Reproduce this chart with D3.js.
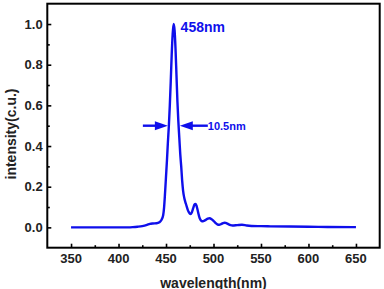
<!DOCTYPE html>
<html><head><meta charset="utf-8">
<script src="https://cdn.jsdelivr.net/npm/d3@7"></script>
<style>
html,body{margin:0;padding:0;background:#fff;}
svg{display:block;font-family:"Liberation Sans",Arial,sans-serif;}
</style></head>
<body><svg id="c" width="384" height="289"></svg>
<script>
const wavelength = [350,360,380,400,410,415,420,425,430,433,436,440,443,445,447,448,449,450,451,452,453,454,455,456,457,458,459,460,461,462,463,464,465,466,467,468,469,470,471,472,473,474,475,476,477,478,479,480,481,482,483,484,485,486,487,488,489,490,492,494,496,498,500,502,504,506,508,510,512,514,516,518,520,525,530,535,540,550,560,580,600,620,650];
const intensity = [0,0,0,0,0,0.001,0.003,0.006,0.012,0.017,0.019,0.02,0.025,0.035,0.06,0.1,0.17,0.25,0.33,0.42,0.5,0.6,0.72,0.85,0.95,1.0,0.97,0.88,0.75,0.62,0.52,0.44,0.36,0.3,0.23,0.18,0.15,0.13,0.115,0.1,0.085,0.075,0.068,0.066,0.072,0.085,0.1,0.112,0.115,0.108,0.09,0.07,0.052,0.04,0.033,0.03,0.03,0.032,0.037,0.043,0.045,0.04,0.032,0.022,0.015,0.013,0.016,0.021,0.023,0.02,0.015,0.011,0.009,0.011,0.013,0.009,0.007,0.006,0.005,0.004,0.003,0.002,0.001];
const xTicks = [350,400,450,500,550,600,650];
const xMinor = [375,425,475,525,575,625];
const yTicks = [0.0,0.2,0.4,0.6,0.8,1.0];
const yMinor = [0.1,0.3,0.5,0.7,0.9];
const peakLabel = "458nm";
const fwhmLabel = "10.5nm";
const fwhmRange = [453, 463.5];
const peakAt = [458, 1.0];

const svg = d3.select("#c");
const L=47.3, R=379.7, T=3.7, B=247.7;
const x = d3.scaleLinear().domain([325,675]).range([L,R]);
const y = d3.scaleLinear().domain([-0.1,1.1]).range([B,T]);
const blue = "rgb(15,15,235)";

// axes (inward ticks)
const gx = svg.append("g").attr("transform",`translate(0,${B})`)
  .call(d3.axisTop(x).tickValues(xTicks).tickSize(4).tickFormat(""));
const gxm = svg.append("g").attr("transform",`translate(0,${B})`)
  .call(d3.axisTop(x).tickValues(xMinor).tickSize(2.5).tickFormat(""));
const gy = svg.append("g").attr("transform",`translate(${L},0)`)
  .call(d3.axisRight(y).tickValues(yTicks).tickSize(4).tickFormat(""));
const gym = svg.append("g").attr("transform",`translate(${L},0)`)
  .call(d3.axisRight(y).tickValues(yMinor).tickSize(2.5).tickFormat(""));
[gx,gxm,gy,gym].forEach(g=>{g.select(".domain").remove();g.selectAll("line").attr("stroke","#000").attr("stroke-width",1.6);});

// tick labels
svg.append("g").selectAll("text").data(xTicks).join("text")
  .attr("x",d=>x(d)).attr("y",263).attr("text-anchor","middle")
  .attr("font-size",13).attr("font-weight","bold").attr("fill","#222").text(d=>d);
svg.append("g").selectAll("text").data(yTicks).join("text")
  .attr("x",42.7).attr("y",d=>y(d)).attr("dy","0.36em").attr("text-anchor","end")
  .attr("font-size",13).attr("font-weight","bold").attr("fill","#222").text(d=>d.toFixed(1));

// frame
svg.append("rect").attr("x",L).attr("y",T).attr("width",R-L).attr("height",B-T)
  .attr("fill","none").attr("stroke","#000").attr("stroke-width",2);

// line
const line = d3.line().x((d,i)=>x(wavelength[i])).y(d=>y(d)).curve(d3.curveMonotoneX);
svg.append("path").datum(intensity).attr("d",line).attr("fill","none")
  .attr("stroke",blue).attr("stroke-width",2.4).attr("stroke-linejoin","round");

// labels
svg.append("text").attr("x",x(peakAt[0])+7).attr("y",y(peakAt[1])+8)
  .attr("font-size",14).attr("font-weight","bold").attr("fill",blue).text(peakLabel);

const ay = y(0.5);
const xl = x(fwhmRange[0]), xr = x(fwhmRange[1]);
svg.append("line").attr("x1",xl-26).attr("x2",xl-12).attr("y1",ay).attr("y2",ay).attr("stroke",blue).attr("stroke-width",2.4);
svg.append("path").attr("d",`M${xl-1},${ay}L${xl-14},${ay-4.5}L${xl-14},${ay+4.5}Z`).attr("fill",blue);
svg.append("line").attr("x1",xr+12).attr("x2",xr+29).attr("y1",ay).attr("y2",ay).attr("stroke",blue).attr("stroke-width",2.4);
svg.append("path").attr("d",`M${xr+1},${ay}L${xr+14},${ay-4.5}L${xr+14},${ay+4.5}Z`).attr("fill",blue);
svg.append("text").attr("x",xr+29).attr("y",ay).attr("dy","0.36em")
  .attr("font-size",11).attr("font-weight","bold").attr("fill",blue).text(fwhmLabel);

// axis titles
svg.append("text").attr("x",(L+R)/2).attr("y",288).attr("text-anchor","middle")
  .attr("font-size",14).attr("font-weight","bold").attr("fill","#222").text("wavelength(nm)");
svg.append("text").attr("transform",`translate(16,134) rotate(-90)`).attr("text-anchor","middle")
  .attr("font-size",14).attr("font-weight","bold").attr("fill","#222").text("intensity(c.u.)");
</script></body></html>
